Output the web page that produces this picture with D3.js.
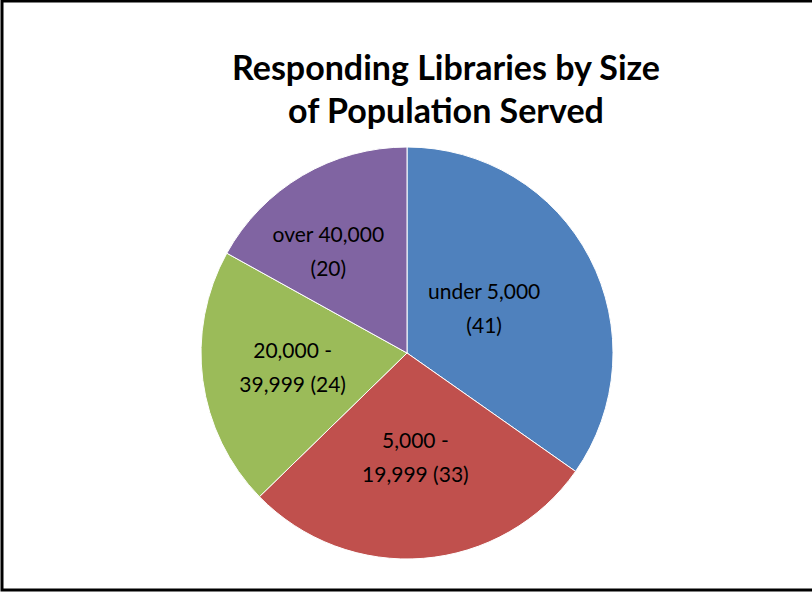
<!DOCTYPE html>
<html lang="en">
<head>
    <meta charset="UTF-8">
    <title>Responding Libraries by Size of Population Served</title>
    <script src="https://d3js.org/d3.v7.min.js"></script>
    <style>
        body { margin: 0; background: white; }
        text { font-family: Lato, 'Open Sans', sans-serif; fill: black; }
        .title { font-weight: bold; font-size: 34px; text-anchor: middle; }
        .label { font-size: 21px; text-anchor: middle; }
    </style>
</head>
<body>
<script>

    const width = 812;
    const height = 592;

    const categories = ['under 5,000', '5,000 - 19,999', '20,000 - 39,999', 'over 40,000'];
    const values = [41, 33, 24, 20];
    const labelLines = [
        ['under 5,000', '(41)'],
        ['5,000 -', '19,999 (33)'],
        ['20,000 -', '39,999 (24)'],
        ['over 40,000', '(20)']
    ];
    const colors = ['#4F81BD', '#C0504D', '#9BBB59', '#8064A2'];

    // where Excel placed each label: fraction of radius, nudge of angle (deg)
    const labelRadius = [0.43, 0.51, 0.56, 0.62];
    const labelNudge = [-2, 0, 0, -7.5];

    const cx = 407, cy = 353, radius = 206;

    const svg = d3.select("body").append("svg").attr("width", width).attr("height", height);

    // frame
    svg.append("rect")
        .attr("x", 2).attr("y", 1)
        .attr("width", width + 10).attr("height", 589)
        .attr("fill", "none").attr("stroke", "black").attr("stroke-width", 3);

    svg.append("text").attr("class", "title")
        .attr("x", 446).attr("y", 80)
        .text("Responding Libraries by Size");
    svg.append("text").attr("class", "title")
        .attr("x", 446).attr("y", 123)
        .text("of Population Served");

    const pie = d3.pie().sort(null).value(d => d);
    const arcs = pie(values);

    const arc = d3.arc().innerRadius(0).outerRadius(radius);

    const chart = svg.append("g").attr("transform", `translate(${cx},${cy})`);

    chart.selectAll("path.slice")
        .data(arcs)
        .enter().append("path").attr("class", "slice")
        .attr("d", arc)
        .attr("fill", (d, i) => colors[i])
        .attr("stroke", "white")
        .attr("stroke-width", 1);

    function labelPos(d, i) {
        const a = (d.startAngle + d.endAngle) / 2 + labelNudge[i] * Math.PI / 180;
        const r = radius * labelRadius[i];
        return [Math.sin(a) * r, -Math.cos(a) * r];
    }

    const labels = chart.selectAll("text.label")
        .data(arcs)
        .enter().append("text").attr("class", "label")
        .attr("transform", (d, i) => `translate(${labelPos(d, i)})`);

    labels.selectAll("tspan")
        .data((d, i) => labelLines[i])
        .enter().append("tspan")
        .attr("x", 0)
        .attr("y", (t, j) => j === 0 ? -10 : 24)
        .text(t => t);

</script>
</body>
</html>
